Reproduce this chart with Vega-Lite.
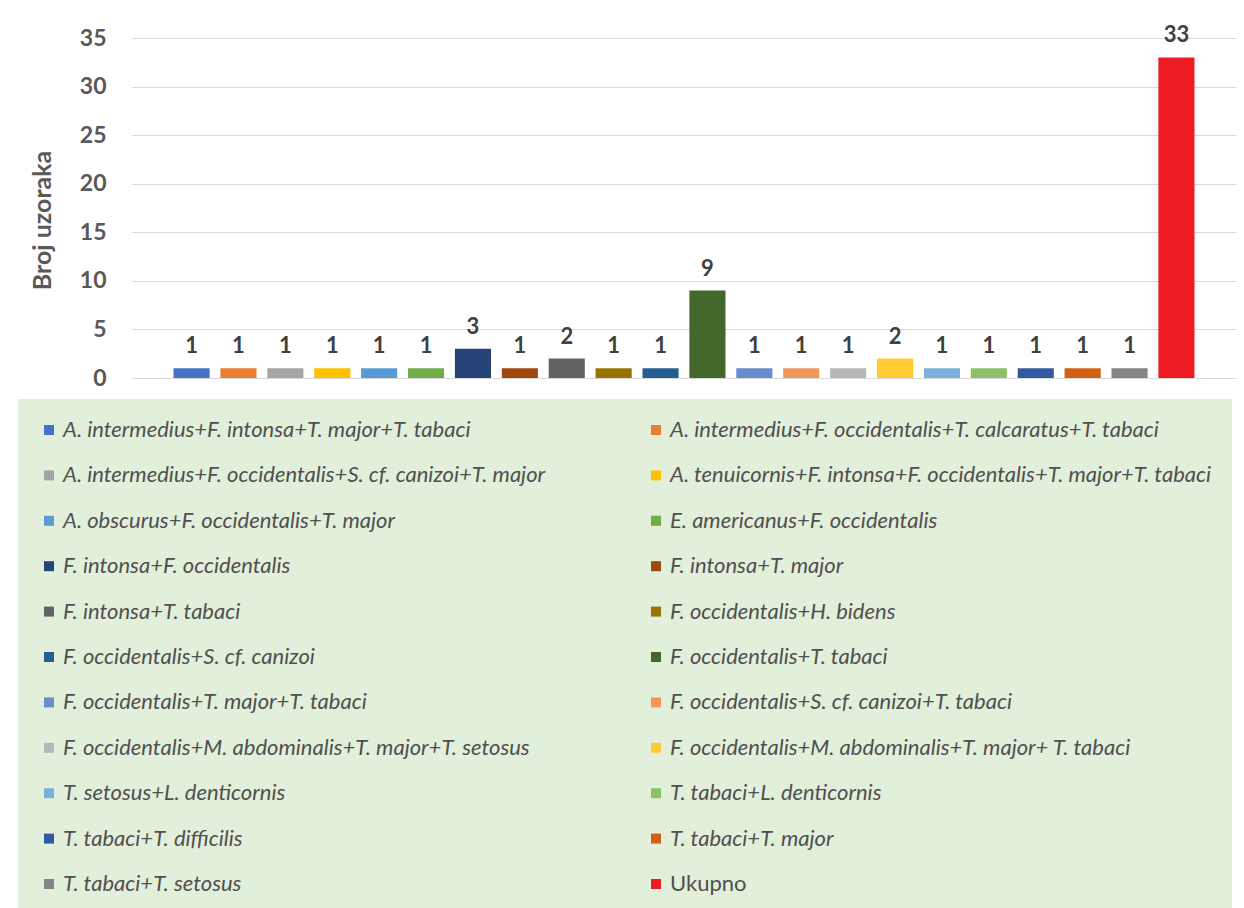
{
  "$schema": "https://vega.github.io/schema/vega-lite/v6.json",
  "width": 1104,
  "height": 340,
  "autosize": {"type": "none"},
  "padding": {"left": 132, "top": 38, "right": 8, "bottom": 530},
  "background": "white",
  "data": {
    "values": [
      {"kombinacija": "A. intermedius+F. intonsa+T. major+T. tabaci", "broj": 1},
      {"kombinacija": "A. intermedius+F. occidentalis+T. calcaratus+T. tabaci", "broj": 1},
      {"kombinacija": "A. intermedius+F. occidentalis+S. cf.  canizoi+T. major", "broj": 1},
      {"kombinacija": "A. tenuicornis+F. intonsa+F. occidentalis+T. major+T. tabaci", "broj": 1},
      {"kombinacija": "A. obscurus+F. occidentalis+T. major", "broj": 1},
      {"kombinacija": "E. americanus+F. occidentalis", "broj": 1},
      {"kombinacija": "F. intonsa+F. occidentalis", "broj": 3},
      {"kombinacija": "F. intonsa+T. major", "broj": 1},
      {"kombinacija": "F. intonsa+T. tabaci", "broj": 2},
      {"kombinacija": "F. occidentalis+H. bidens", "broj": 1},
      {"kombinacija": "F. occidentalis+S. cf. canizoi", "broj": 1},
      {"kombinacija": "F. occidentalis+T. tabaci", "broj": 9},
      {"kombinacija": "F. occidentalis+T. major+T. tabaci", "broj": 1},
      {"kombinacija": "F. occidentalis+S. cf. canizoi+T. tabaci", "broj": 1},
      {"kombinacija": "F. occidentalis+M. abdominalis+T. major+T. setosus", "broj": 1},
      {"kombinacija": "F. occidentalis+M. abdominalis+T. major+ T. tabaci", "broj": 2},
      {"kombinacija": "T. setosus+L. denticornis", "broj": 1},
      {"kombinacija": "T. tabaci+L. denticornis", "broj": 1},
      {"kombinacija": "T. tabaci+T. difficilis", "broj": 1},
      {"kombinacija": "T. tabaci+T. major", "broj": 1},
      {"kombinacija": "T. tabaci+T. setosus", "broj": 1},
      {"kombinacija": "Ukupno", "broj": 33}
    ]
  },
  "encoding": {
    "x": {
      "field": "kombinacija",
      "type": "nominal",
      "sort": null,
      "axis": null,
      "scale": {"paddingInner": 0.23, "paddingOuter": 0.885}
    },
    "y": {
      "field": "broj",
      "type": "quantitative",
      "scale": {"domain": [0, 35], "nice": false},
      "axis": {
        "title": "Broj uzoraka",
        "values": [0, 5, 10, 15, 20, 25, 30, 35],
        "domain": false,
        "ticks": false,
        "grid": true,
        "gridColor": "#D9D9D9",
        "gridWidth": 1.2,
        "labelFont": "Lato",
        "labelFontSize": 23,
        "labelFontWeight": "bold",
        "labelColor": "#595959",
        "labelPadding": 26,
        "titleFont": "Lato",
        "titleFontSize": 25,
        "titleFontWeight": "bold",
        "titleColor": "#595959",
        "titleAngle": -90,
        "titleAlign": "center",
        "titleBaseline": "middle",
        "titleX": -90,
        "titleY": 182
      }
    }
  },
  "layer": [
    {
      "mark": {"type": "bar"},
      "encoding": {
        "color": {
          "field": "kombinacija",
          "type": "nominal",
          "scale": {
            "domain": [
              "A. intermedius+F. intonsa+T. major+T. tabaci",
              "A. intermedius+F. occidentalis+T. calcaratus+T. tabaci",
              "A. intermedius+F. occidentalis+S. cf.  canizoi+T. major",
              "A. tenuicornis+F. intonsa+F. occidentalis+T. major+T. tabaci",
              "A. obscurus+F. occidentalis+T. major",
              "E. americanus+F. occidentalis",
              "F. intonsa+F. occidentalis",
              "F. intonsa+T. major",
              "F. intonsa+T. tabaci",
              "F. occidentalis+H. bidens",
              "F. occidentalis+S. cf. canizoi",
              "F. occidentalis+T. tabaci",
              "F. occidentalis+T. major+T. tabaci",
              "F. occidentalis+S. cf. canizoi+T. tabaci",
              "F. occidentalis+M. abdominalis+T. major+T. setosus",
              "F. occidentalis+M. abdominalis+T. major+ T. tabaci",
              "T. setosus+L. denticornis",
              "T. tabaci+L. denticornis",
              "T. tabaci+T. difficilis",
              "T. tabaci+T. major",
              "T. tabaci+T. setosus",
              "Ukupno"
            ],
            "range": [
              "#4472C4", "#ED7D31", "#A5A5A5", "#FFC000", "#5B9BD5", "#70AD47",
              "#264478", "#9E480E", "#636363", "#997300", "#255E91", "#43682B",
              "#698ED0", "#F1975A", "#B7B7B7", "#FFCD33", "#7CAFDD", "#8CC168",
              "#335AA1", "#D26012", "#848484", "#ED1C24"
            ]
          },
          "legend": {
            "title": null,
            "orient": "none",
            "legendX": -114,
            "legendY": 361,
            "columns": 2,
            "direction": "horizontal",
            "gridAlign": "all",
            "fillColor": "#E2EFDA",
            "padding": 20,
            "symbolType": "square",
            "symbolSize": 100,
            "symbolStrokeWidth": 0,
            "symbolOpacity": 1,
            "labelFont": "Lato",
            "labelFontSize": 22,
            "labelColor": "#505050",
            "labelLimit": 800,
            "labelOffset": 3,
            "rowPadding": 23.4,
            "columnPadding": 40,
            "encode": {
              "labels": {
                "update": {
                  "fontStyle": {"signal": "datum.value === 'Ukupno' ? 'normal' : 'italic'"}
                }
              }
            }
          }
        }
      }
    },
    {
      "mark": {
        "type": "text",
        "baseline": "alphabetic",
        "dy": -15,
        "font": "Lato",
        "fontSize": 22,
        "fontWeight": "bold",
        "color": "#404040"
      },
      "encoding": {"text": {"field": "broj", "type": "quantitative"}}
    }
  ],
  "config": {"view": {"stroke": null}}
}
